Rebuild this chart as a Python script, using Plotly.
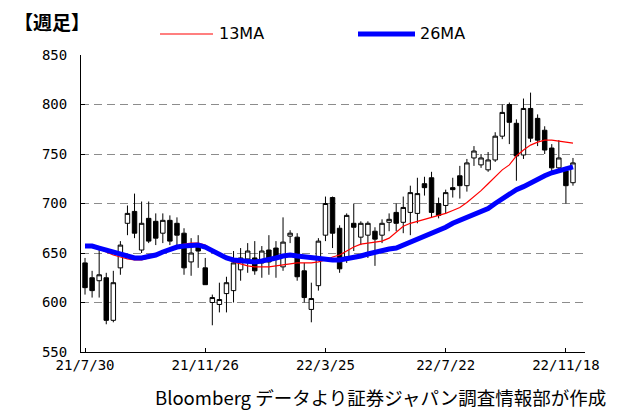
import plotly.graph_objects as go

weeks = list(range(70))
opens = [640, 625, 622, 625, 582, 635, 680, 692, 653, 685,
         682, 670, 683, 680, 670, 641, 658, 635, 600, 598,
         609, 612, 633, 644, 645, 640, 653, 655, 636, 667,
         666, 632, 593, 617, 668, 706, 675, 646, 680, 666,
         668, 672, 668, 681, 691, 681, 691, 690, 720, 726,
         700, 698, 716, 728, 718, 746, 739, 734, 744, 768,
         800, 781, 749, 796, 786, 774, 756, 736, 733, 721]
highs = [645, 632, 653, 630, 632, 662, 698, 710, 702, 702,
         690, 690, 688, 686, 675, 665, 668, 645, 608, 620,
         626, 652, 655, 660, 662, 657, 668, 662, 686, 673,
         670, 640, 620, 665, 707, 707, 678, 690, 700, 682,
         682, 676, 684, 690, 700, 707, 718, 726, 727, 732,
         706, 714, 726, 738, 745, 758, 750, 752, 772, 800,
         802, 785, 806, 812, 790, 778, 760, 764, 737, 746]
lows = [608, 605, 605, 578, 580, 628, 668, 665, 650, 660,
        658, 660, 658, 655, 628, 627, 635, 618, 577, 590,
        590, 600, 622, 630, 628, 625, 628, 625, 632, 660,
        622, 600, 580, 612, 662, 655, 630, 640, 652, 658,
        645, 637, 660, 672, 672, 670, 668, 680, 708, 686,
        685, 690, 706, 705, 712, 738, 736, 732, 742, 765,
        760, 723, 745, 762, 758, 750, 732, 733, 700, 718]
closes = [615, 612, 628, 582, 620, 658, 690, 670, 680, 662,
          665, 683, 662, 668, 635, 650, 652, 618, 605, 603,
          620, 640, 645, 652, 632, 652, 641, 646, 661, 670,
          626, 605, 604, 662, 700, 670, 634, 688, 676, 680,
          680, 664, 680, 684, 680, 696, 711, 710, 716, 691,
          688, 711, 714, 718, 741, 753, 746, 744, 768, 792,
          782, 748, 796, 766, 764, 754, 736, 746, 718, 741]
ma13 = [658, 656, 654, 651, 648, 646, 644, 643, 643, 645,
        648, 652, 655, 657, 659, 660, 660, 658, 653, 648,
        644, 641, 639, 637, 636, 636, 636, 637, 638, 639,
        640, 640, 640, 641, 643, 646, 648, 652, 656, 659,
        660, 661, 662, 665, 671, 677, 680, 682, 684, 686,
        688, 690, 693, 696, 701, 707, 713, 720, 727, 734,
        739, 748, 754, 759, 762, 764, 764, 763, 762, 761]
ma26 = [657, 657, 655, 653, 650, 648, 646, 645, 645, 646,
        648, 651, 654, 656, 657, 658, 658, 656, 652, 648,
        645, 643, 642, 641, 641, 642, 643, 645, 647, 648,
        647, 646, 645, 644, 643, 643, 643, 644, 645, 647,
        649, 651, 652, 654, 655, 658, 660, 663, 666, 669,
        673, 676, 680, 683, 686, 689, 692, 695, 700, 705,
        710, 714, 717, 721, 725, 728, 731, 733, 735, 737]
tick_pos = [0, 17, 34, 51, 68]
tick_text = ["21/7/30", "21/11/26", "22/3/25", "22/7/22", "22/11/18"]
y_ticks = [550, 600, 650, 700, 750, 800, 850]

# the page body has an 8px margin, so the figure is drawn at (8, 8)
W, H = 616, 402
L, T, R, B = 73, 47, 39, 58
PW, PH = W - L - R, H - T - B


def px(xp):
    return (xp - 8 - L) / PW


def py(yp):
    return (H - B - (yp - 8)) / PH


fig = go.Figure()
fig.add_trace(go.Candlestick(
    x=weeks, open=opens, high=highs, low=lows, close=closes,
    increasing=dict(line=dict(color="black", width=1), fillcolor="white"),
    decreasing=dict(line=dict(color="black", width=1), fillcolor="black"),
    whiskerwidth=0, showlegend=False, hoverinfo="skip"))
fig.add_trace(go.Scatter(x=weeks, y=ma13, mode="lines",
                         line=dict(color="#ff0000", width=1.2), showlegend=False))
fig.add_trace(go.Scatter(x=weeks, y=ma26, mode="lines",
                         line=dict(color="#0000ff", width=5), showlegend=False))

tickfont = dict(family="DejaVu Sans Mono", size=14, color="black")
fig.update_layout(
    width=W, height=H,
    margin=dict(l=L, r=R, t=T, b=B),
    paper_bgcolor="white", plot_bgcolor="white",
    boxgap=0.1,
    xaxis=dict(range=[-0.57, 70.7], tickvals=tick_pos, ticktext=tick_text,
               showline=True, linecolor="black", linewidth=1,
               ticks="inside", ticklen=4, tickcolor="black",
               showgrid=False, zeroline=False, rangeslider=dict(visible=False),
               tickfont=tickfont, fixedrange=True),
    yaxis=dict(range=[550, 850], tickvals=y_ticks,
               showline=True, linecolor="black", linewidth=1,
               ticks="inside", ticklen=4, tickcolor="black",
               showgrid=True, gridcolor="#8c8c8c", gridwidth=1, griddash="8px,5px",
               zeroline=False, tickfont=tickfont, ticklabelstandoff=10),
    font=dict(family="DejaVu Sans", color="black"),
)

# legend
fig.add_shape(type="line", xref="paper", yref="paper",
              x0=px(160), x1=px(213), y0=py(34), y1=py(34),
              line=dict(color="#ff0000", width=1.2))
fig.add_annotation(xref="paper", yref="paper", x=px(217), y=py(34),
                   text="13MA", showarrow=False, xanchor="left", yanchor="middle",
                   font=dict(family="DejaVu Sans", size=16, color="black"))
fig.add_shape(type="line", xref="paper", yref="paper",
              x0=px(358), x1=px(415), y0=py(34), y1=py(34),
              line=dict(color="#0000ff", width=5))
fig.add_annotation(xref="paper", yref="paper", x=px(418), y=py(34),
                   text="26MA", showarrow=False, xanchor="left", yanchor="middle",
                   font=dict(family="DejaVu Sans", size=16, color="black"))
# title
fig.add_annotation(xref="paper", yref="paper", x=px(12), y=py(21),
                   text="<b>【週足】</b>", showarrow=False, xanchor="left", yanchor="middle",
                   font=dict(family="Noto Sans CJK JP", size=19, color="black"))
# source
fig.add_annotation(xref="paper", yref="paper", x=px(608), y=py(397),
                   text="Bloomberg データより証券ジャパン調査情報部が作成", showarrow=False,
                   xanchor="right", yanchor="middle",
                   font=dict(family="Noto Sans CJK JP", size=18.5, color="black"))

fig.write_html("out.html")
